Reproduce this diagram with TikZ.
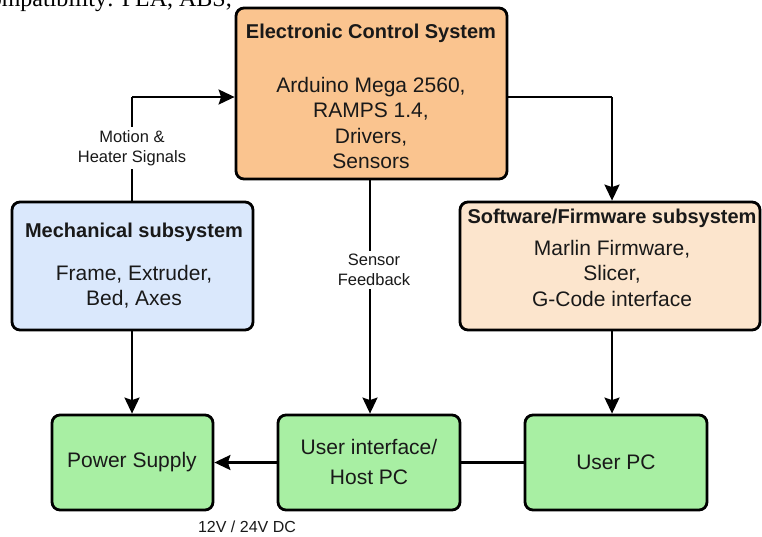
\documentclass[tikz,border=0pt]{standalone}
\usepackage{fontspec}
\setmainfont{Liberation Sans}
\newfontfamily\serifdoc{Liberation Serif}
\usetikzlibrary{arrows.meta}
\definecolor{ecsfill}{RGB}{250,196,143}
\definecolor{mechfill}{RGB}{218,232,252}
\definecolor{softfill}{RGB}{252,229,205}
\definecolor{greenfill}{RGB}{168,239,163}
\definecolor{txt}{RGB}{25,25,25}
\tikzset{
  blockbox/.style={draw=black, line width=2.8pt, rounded corners=8pt, inner sep=0pt},
  titletext/.style={font=\fontsize{20}{24}\selectfont\bfseries, text=txt, inner sep=0pt, align=center},
  bodytext/.style={font=\fontsize{21}{25.5}\selectfont, text=txt, inner sep=0pt, align=center},
  edgelabel/.style={font=\fontsize{16.5}{20}\selectfont, text=txt, fill=white, inner sep=3pt, align=center},
  conn/.style={line width=2.3pt, draw=black},
  arr/.style={conn, -{Stealth[length=16pt,width=15pt,inset=2.5pt]}}
}
\begin{document}
\begin{tikzpicture}[x=1pt,y=-1pt]
\useasboundingbox (0,0) rectangle (762,536);
% cut-off text at top
\node[anchor=base east, inner sep=0pt, font=\serifdoc\fontsize{24}{28}\selectfont] (toptext) at (232,6) {compatibility: PLA, ABS,};
% boxes
\node[blockbox, fill=ecsfill, minimum width=271pt, minimum height=171pt] (ecs) at (371.5,93.5) {};
\node[blockbox, fill=mechfill, minimum width=241pt, minimum height=128pt] (mech) at (132.5,266) {};
\node[blockbox, fill=softfill, minimum width=300pt, minimum height=128pt] (soft) at (610,266) {};
\node[blockbox, fill=greenfill, minimum width=161pt, minimum height=95pt] (ps) at (132.5,462.5) {};
\node[blockbox, fill=greenfill, minimum width=182pt, minimum height=95pt] (ui) at (369,462.5) {};
\node[blockbox, fill=greenfill, minimum width=182pt, minimum height=95pt] (upc) at (616,462.5) {};
% texts
\node[titletext] (ecst) at (371,33) {Electronic Control System};
\node[bodytext, anchor=north] (ecsb) at (371,77) {Arduino Mega 2560,\\RAMPS 1.4,\\Drivers,\\Sensors};
\node[titletext] (mecht) at (134,232) {Mechanical subsystem};
\node[bodytext, anchor=north] (mechb) at (134,265) {Frame, Extruder,\\Bed, Axes};
\node[titletext] (softt) at (612,218) {Software/Firmware subsystem};
\node[bodytext, anchor=north] (softb) at (612,240) {Marlin Firmware,\\Slicer,\\G-Code interface};
\node[bodytext] (pst) at (132,462) {Power Supply};
\node[bodytext, font=\fontsize{21}{29.5}\selectfont] (uit) at (369,462) {User interface/\\Host PC};
\node[bodytext] (upct) at (616,462) {User PC};
% connectors
\coordinate (mechtop) at (132,202);
\coordinate (bendA) at (132,97);
\draw[conn] (mech.north -| mechtop) -- (bendA);
\draw[arr] (bendA) -- (bendA -| ecs.west);
\node[edgelabel] (lblmotion) at (132,148) {Motion \&\\Heater Signals};
\coordinate (bendB) at (612,97);
\draw[conn] (ecs.east |- bendB) -- (bendB);
\draw[arr] (bendB) -- (bendB |- soft.north);
\coordinate (ecsdown) at (370,179);
\draw[arr] (ecs.south -| ecsdown) -- (ui.north -| ecsdown);
\node[edgelabel] (lblsensor) at (374,270) {Sensor\\Feedback};
\draw[arr] (mech.south -| mechtop) -- (ps.north -| mechtop);
\draw[arr] (soft.south -| bendB) -- (upc.north -| bendB);
\draw[conn] (upc.west) -- (ui.east);
\draw[arr] (ui.west) -- (ps.east);
\node[font=\fontsize{16}{20}\selectfont, text=txt, inner sep=0pt] (dc) at (247,527) {12V / 24V DC};
\end{tikzpicture}
\end{document}
